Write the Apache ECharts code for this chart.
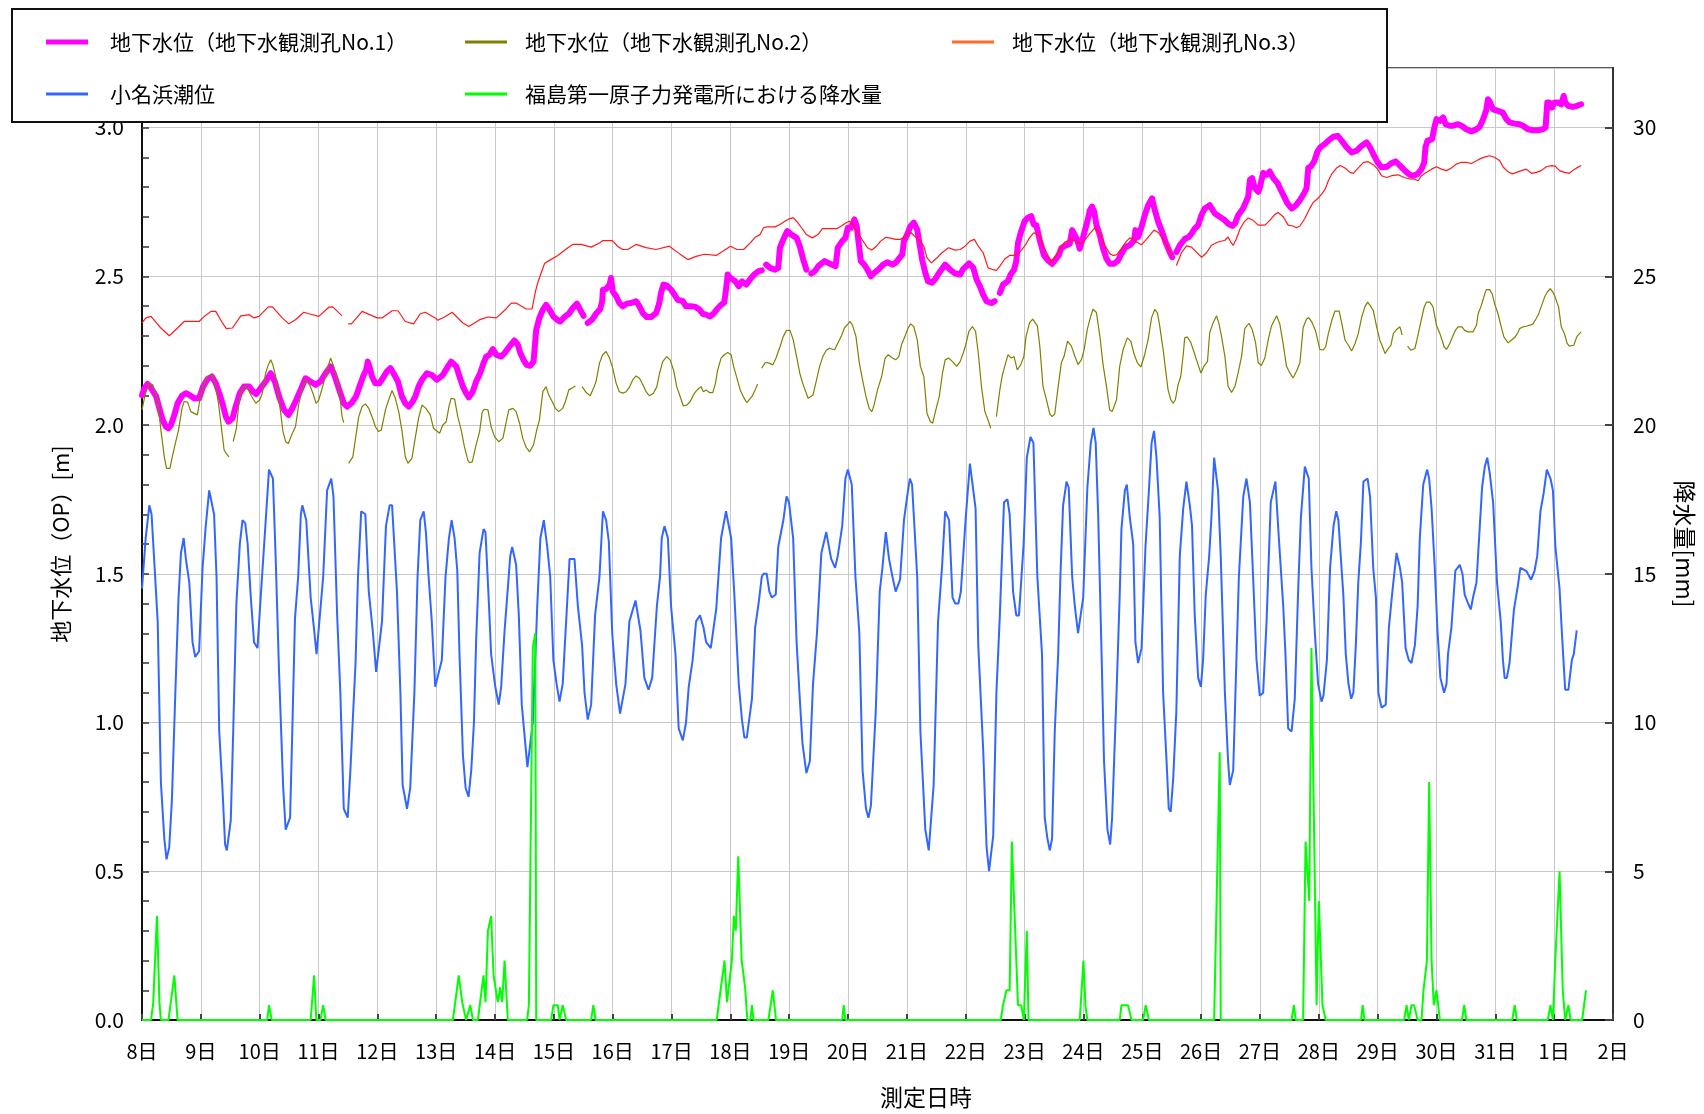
<!DOCTYPE html>
<html>
<head>
<meta charset="utf-8">
<script src="https://cdn.jsdelivr.net/npm/echarts@6/dist/echarts.min.js"></script>
<style>
html,body{margin:0;padding:0;background:#fff;}
#chart{width:1704px;height:1114px;}
</style>
</head>
<body>
<div id="chart"></div>
<script>
// x values are hours elapsed since 8日 0:00
const dayLabels = ['8日','9日','10日','11日','12日','13日','14日','15日','16日','17日','18日','19日','20日','21日','22日','23日','24日','25日','26日','27日','28日','29日','30日','31日','1日','2日'];

const seriesNames = [
  '地下水位（地下水観測孔No.1）',
  '地下水位（地下水観測孔No.2）',
  '地下水位（地下水観測孔No.3）',
  '小名浜潮位',
  '福島第一原子力発電所における降水量'
];

// 地下水位 No.1 [m]
const gw1 = [
[0,2.10],[1.0,2.124],[2.3,2.138],[3.7,2.124],[5.8,2.096],[7.3,2.05],[8.4,2.017],[9.8,1.994],[10.8,1.989],[11.8,2.0],[13.2,2.034],[14.5,2.073],[16.3,2.098],[17.9,2.107],[19.3,2.101],[21.3,2.09],[23.3,2.09],[24.9,2.129],[26.7,2.154],[28.5,2.163],[30.1,2.14],[31.5,2.107],[32.8,2.073],[34.2,2.028],[35.3,2.011],[36.9,2.022],[38.2,2.062],[39.9,2.107],[41.6,2.129],[43.7,2.129],[45.3,2.112],[46.6,2.104],[48.4,2.124],[50.4,2.146],[52.5,2.174],[54.2,2.146],[55.9,2.096],[57.9,2.051],[59.7,2.034],[61.3,2.056],[62.9,2.084],[64.7,2.118],[66.7,2.157],[68.7,2.146],[70.8,2.135],[72.8,2.146],[74.9,2.174],[76.9,2.197],[78.2,2.174],[79.6,2.14],[80.9,2.107],[82.3,2.073],[83.7,2.062],[85.7,2.076],[87.3,2.096],[88.7,2.129],[90.4,2.168],[91.4,2.185],[92.1,2.213],[92.8,2.196],[93.8,2.163],[95.2,2.14],[96.8,2.14],[98.6,2.163],[99.9,2.18],[101.3,2.191],[102.6,2.174],[104.4,2.146],[106.0,2.096],[107.4,2.073],[108.8,2.062],[110.4,2.079],[111.5,2.096],[112.8,2.129],[114.2,2.152],[116.2,2.174],[118.2,2.168],[120.3,2.152],
[122.7,2.168],[124.8,2.197],[126.1,2.213],[128.2,2.197],[129.5,2.163],[130.9,2.129],[132.2,2.107],[133.3,2.093],[134.9,2.112],[136.3,2.146],[137.9,2.174],[139.3,2.208],[140.4,2.23],[141.7,2.236],[143.1,2.255],[144.5,2.236],[146.5,2.23],[147.9,2.242],[149.9,2.264],[151.9,2.284],[153.3,2.27],[154.3,2.242],[155.6,2.219],[156.9,2.202],[158.3,2.199],[159.7,2.213],[160.8,2.32],[162.1,2.36],[163.5,2.388],[164.8,2.404],[166.2,2.388],[167.8,2.365],[169.6,2.352],[170.6,2.348],[172.3,2.363],[174.1,2.374],[175.7,2.393],[177.4,2.408],[178.7,2.388],[180.1,2.367],[180.9,null],
[181.8,2.343],[183.6,2.354],[185.2,2.374],[186.9,2.39],[187.7,2.416],[188.0,2.455],[189.3,2.457],[190.7,2.472],[191.3,2.494],[192.0,2.449],[193.4,2.433],[194.7,2.41],[196.1,2.399],[197.7,2.408],[199.5,2.41],[201.5,2.416],[202.9,2.399],[204.3,2.376],[205.9,2.363],[207.6,2.363],[209.7,2.376],[211.0,2.41],[211.7,2.444],[212.7,2.472],[214.0,2.469],[215.8,2.455],[217.2,2.438],[218.5,2.421],[220.6,2.416],[221.9,2.399],[224.0,2.399],[225.7,2.397],[227.4,2.388],[228.7,2.374],[230.1,2.371],[231.7,2.365],[233.1,2.374],[234.4,2.388],[236.2,2.404],[237.5,2.412],[238.2,2.455],[238.9,2.506],[240.0,2.494],[242.0,2.483],[243.4,2.466],[244.7,2.483],[246.5,2.472],[248.1,2.491],[249.7,2.506],[251.5,2.517],[252.8,2.52],[253.7,null],
[254.6,2.539],[256.2,2.528],[258.2,2.522],[259.5,2.528],[260.2,2.596],[261.6,2.624],[263.2,2.652],[264.9,2.64],[267.0,2.629],[268.3,2.601],[269.7,2.556],[271.0,2.522],[272.0,null],
[273.0,2.509],[274.4,2.517],[276.1,2.536],[278.4,2.551],[280.4,2.543],[282.9,2.534],[283.8,2.596],[285.6,2.618],[286.9,2.629],[287.9,2.663],[289.2,2.663],[290.6,2.691],[291.5,2.669],[293.2,2.551],[294.6,2.539],[295.9,2.522],[297.3,2.5],[298.6,2.511],[300.7,2.525],[302.3,2.539],[304.0,2.547],[306.1,2.539],[307.4,2.545],[309.0,2.562],[310.1,2.573],[310.8,2.618],[312.1,2.64],[313.5,2.669],[314.8,2.68],[316.2,2.657],[317.1,2.612],[318.2,2.556],[319.5,2.511],[320.6,2.483],[322.2,2.478],[323.6,2.491],[325.6,2.517],[327.6,2.539],[329.6,2.522],[331.7,2.509],[333.7,2.506],[335.0,2.525],[337.3,2.543],[339.1,2.528],[340.4,2.489],[341.8,2.466],[343.1,2.438],[344.5,2.416],[346.5,2.41],[347.8,2.416],[348.8,null],
[349.9,2.444],[351.2,2.472],[353.2,2.483],[354.3,2.506],[355.7,2.522],[356.6,2.551],[357.3,2.612],[358.4,2.646],[360.0,2.685],[361.3,2.697],[362.7,2.702],[363.7,2.674],[364.8,2.672],[366.2,2.621],[367.9,2.57],[369.6,2.553],[371.2,2.542],[372.3,2.553],[373.9,2.57],[375.0,2.595],[376.4,2.602],[378.4,2.609],[379.4,2.655],[380.5,2.638],[381.5,2.621],[382.5,2.593],[383.5,2.621],[384.8,2.66],[385.9,2.694],[386.6,2.722],[387.5,2.734],[388.4,2.717],[389.3,2.672],[390.7,2.638],[392.0,2.593],[393.4,2.559],[394.7,2.542],[396.5,2.542],[398.1,2.553],[399.5,2.576],[401.1,2.598],[402.9,2.604],[404.7,2.621],[405.2,2.655],[406.3,2.632],[407.7,2.666],[409.0,2.705],[410.4,2.739],[412.0,2.762],[413.1,2.722],[414.5,2.683],[416.1,2.649],[417.5,2.615],[419.2,2.581],[420.2,2.564],[421.0,null],
[421.9,2.581],[423.3,2.604],[425.4,2.626],[427.0,2.632],[428.1,2.643],[429.4,2.66],[430.8,2.672],[432.1,2.705],[433.5,2.728],[435.5,2.739],[437.6,2.711],[439.6,2.70],[441.7,2.688],[443.0,2.677],[444.7,2.669],[445.8,2.677],[447.1,2.705],[449.1,2.728],[451.2,2.767],[451.9,2.824],[452.8,2.83],[453.9,2.796],[455.3,2.784],[455.9,2.796],[457.3,2.847],[458.7,2.841],[460.0,2.852],[461.4,2.83],[463.2,2.813],[464.5,2.79],[465.9,2.767],[467.2,2.745],[468.9,2.728],[470.5,2.737],[472.3,2.756],[474.0,2.779],[475.0,2.796],[475.7,2.864],[476.8,2.869],[478.1,2.886],[479.5,2.92],[480.8,2.935],[482.5,2.945],[484.6,2.961],[486.0,2.969],[487.7,2.972],[489.4,2.955],[491.4,2.933],[493.4,2.916],[495.5,2.922],[497.5,2.939],[499.5,2.95],[500.9,2.933],[502.2,2.911],[504.0,2.883],[505.6,2.866],[507.7,2.868],[509.4,2.879],[511.3,2.886],[513.1,2.872],[515.1,2.855],[517.2,2.841],[518.5,2.838],[520.3,2.844],[521.9,2.86],[523.0,2.883],[523.5,2.933],[524.3,2.955],[526.2,2.961],[527.3,3.006],[528.0,3.028],[529.4,3.022],[530.7,3.034],[531.7,3.011],[533.4,3.006],[534.8,3.006],[536.8,3.011],[538.2,3.006],[540.2,2.994],[542.2,2.987],[543.6,2.991],[545.6,3.002],[547.0,3.028],[548.3,3.058],[549.0,3.095],[549.7,3.087],[551.1,3.061],[553.1,3.056],[555.1,3.05],[556.5,3.028],[557.8,3.017],[559.9,3.013],[561.9,3.011],[563.3,3.006],[565.3,2.994],[567.3,2.991],[569.4,2.991],[571.4,2.994],[572.5,3.0],[573.2,3.084],[574.1,3.084],[575.1,3.067],[576.1,3.084],[577.5,3.084],[578.9,3.078],[579.9,3.106],[580.5,3.084],[581.8,3.073],[583.6,3.069],[585.3,3.073],[587.0,3.078]
];

// 地下水位 No.2 [m]
const gw2 = [
[0,2.051],[1.4,2.107],[3.0,2.14],[4.4,2.135],[6.4,2.084],[7.7,1.983],[9.1,1.893],[10.0,1.854],[11.4,1.854],[12.5,1.899],[13.6,1.938],[14.9,1.983],[16.3,2.056],[17.2,2.079],[18.6,2.077],[19.9,2.045],[21.3,2.039],[22.6,2.034],[23.6,2.084],[24.9,2.129],[26.7,2.163],[28.5,2.169],[29.8,2.14],[31.2,2.073],[32.5,1.983],[33.5,1.916],[34.4,1.904],[35.5,1.893],[36.3,null],
[37.2,1.944],[38.5,1.989],[39.6,2.079],[40.7,2.118],[42.0,2.131],[43.4,2.118],[44.7,2.096],[46.4,2.073],[48.0,2.084],[49.1,2.107],[50.4,2.174],[51.5,2.202],[52.5,2.219],[53.4,2.202],[54.5,2.163],[55.9,2.084],[57.5,1.978],[58.6,1.944],[59.7,1.938],[61.0,1.966],[62.6,1.994],[64.0,2.073],[65.6,2.129],[67.0,2.152],[68.7,2.129],[69.7,2.107],[71.0,2.073],[72.1,2.084],[73.5,2.124],[75.5,2.185],[76.9,2.225],[78.2,2.197],[79.6,2.152],[80.9,2.084],[81.6,2.028],[82.3,2.008],[83.3,null],
[84.3,1.871],[86.0,1.893],[87.1,1.955],[88.4,2.028],[89.8,2.062],[91.1,2.071],[92.5,2.056],[94.1,2.022],[95.2,1.994],[96.5,1.978],[97.6,1.983],[99.3,2.051],[100.6,2.084],[102.0,2.116],[103.3,2.09],[104.7,2.045],[106.0,1.983],[107.4,1.893],[108.5,1.871],[110.1,1.888],[111.2,1.944],[112.8,2.022],[114.2,2.067],[115.8,2.056],[117.6,2.034],[118.9,1.989],[121.4,1.972],[122.7,2.0],[124.1,2.011],[125.2,2.062],[126.1,2.09],[127.5,2.087],[128.8,2.028],[130.2,1.983],[131.5,1.927],[132.9,1.882],[133.6,1.873],[134.7,1.876],[136.1,1.927],[137.7,1.978],[138.8,2.045],[139.7,2.053],[141.1,2.051],[142.4,1.994],[143.8,1.961],[145.5,1.944],[147.2,1.955],[148.3,2.0],[149.6,2.051],[151.3,2.056],[152.6,2.045],[154.0,2.006],[155.3,1.955],[156.7,1.925],[158.1,1.91],[158.7,1.904],[159.7,1.933],[161.0,1.983],[162.1,2.017],[163.5,2.112],[164.8,2.129],[165.9,2.101],[167.3,2.079],[168.6,2.056],[170.0,2.045],[171.6,2.056],[172.7,2.079],[174.1,2.118],[175.4,2.124],[176.8,2.131],[178.0,null],
[179.5,2.129],[181.2,2.109],[182.8,2.098],[184.2,2.124],[185.2,2.146],[186.6,2.208],[187.9,2.236],[189.3,2.247],[190.7,2.225],[192.0,2.191],[193.4,2.14],[194.7,2.112],[196.1,2.107],[197.5,2.112],[198.8,2.127],[200.2,2.152],[201.5,2.165],[202.9,2.157],[204.3,2.135],[205.6,2.112],[207.0,2.098],[208.6,2.107],[210.0,2.129],[211.1,2.174],[212.4,2.213],[214.0,2.23],[215.4,2.219],[216.8,2.185],[218.1,2.129],[219.5,2.096],[220.8,2.064],[222.2,2.067],[223.6,2.079],[225.3,2.107],[226.7,2.12],[228.0,2.129],[229.0,2.112],[230.1,2.118],[231.4,2.109],[232.8,2.109],[233.9,2.14],[234.8,2.185],[236.2,2.225],[237.5,2.236],[238.9,2.244],[240.3,2.236],[241.3,2.197],[242.7,2.157],[244.0,2.118],[245.4,2.093],[246.7,2.075],[247.4,2.071],[248.8,2.096],[250.1,2.118],[251.1,2.138],[252.0,null],
[252.8,2.191],[254.2,2.21],[255.9,2.208],[257.3,2.202],[258.6,2.225],[260.2,2.262],[261.6,2.298],[262.9,2.318],[264.3,2.318],[265.6,2.287],[267.0,2.23],[268.3,2.174],[269.7,2.135],[271.7,2.09],[273.7,2.101],[274.8,2.14],[276.4,2.197],[277.7,2.23],[279.1,2.251],[280.4,2.258],[282.5,2.253],[283.8,2.275],[285.2,2.298],[286.5,2.326],[287.9,2.339],[288.8,2.348],[289.9,2.333],[291.2,2.298],[292.6,2.208],[293.9,2.152],[295.3,2.096],[296.6,2.056],[297.7,2.045],[298.6,2.067],[300.0,2.118],[301.7,2.163],[303.1,2.225],[304.4,2.236],[306.1,2.225],[307.4,2.219],[308.7,2.23],[309.8,2.27],[311.2,2.298],[312.5,2.326],[313.5,2.34],[314.8,2.331],[316.2,2.287],[317.5,2.197],[318.9,2.163],[320.2,2.039],[321.6,2.011],[322.5,2.006],[323.8,2.051],[325.2,2.096],[326.5,2.174],[327.6,2.219],[329.0,2.225],[330.6,2.213],[332.3,2.197],[333.7,2.213],[335.0,2.242],[336.0,2.27],[337.3,2.315],[338.7,2.331],[340.0,2.315],[341.1,2.242],[342.4,2.129],[343.8,2.045],[345.1,2.017],[346.2,1.989],[347.3,null],
[348.5,2.028],[349.9,2.118],[350.8,2.163],[351.9,2.197],[353.2,2.236],[354.6,2.225],[355.7,2.23],[357.0,2.185],[358.4,2.202],[359.7,2.23],[360.6,2.298],[362.0,2.343],[363.3,2.356],[365.2,2.333],[366.2,2.265],[367.5,2.13],[368.9,2.085],[370.3,2.037],[371.2,2.028],[372.3,2.037],[373.7,2.13],[375.0,2.209],[376.1,2.231],[377.5,2.282],[379.1,2.265],[380.5,2.231],[381.8,2.203],[383.2,2.22],[384.3,2.254],[385.6,2.322],[387.0,2.367],[387.9,2.389],[389.3,2.378],[390.7,2.299],[392.0,2.203],[393.4,2.13],[394.7,2.051],[395.7,2.045],[396.5,2.045],[397.5,2.085],[398.8,2.198],[400.2,2.254],[401.9,2.293],[403.3,2.282],[404.7,2.237],[406.0,2.209],[407.4,2.195],[408.8,2.231],[410.4,2.288],[411.8,2.361],[413.1,2.389],[414.2,2.376],[415.1,2.333],[416.5,2.254],[417.5,2.186],[418.5,2.119],[419.6,2.085],[420.6,2.073],[421.5,2.085],[422.6,2.135],[423.7,2.164],[424.7,2.237],[425.3,2.293],[426.4,2.296],[427.8,2.277],[429.2,2.243],[430.5,2.209],[431.9,2.175],[433.2,2.198],[434.6,2.214],[435.5,2.31],[436.9,2.344],[438.3,2.367],[439.2,2.344],[440.3,2.299],[441.7,2.231],[443.0,2.13],[444.4,2.109],[445.8,2.13],[447.1,2.175],[448.5,2.231],[449.8,2.324],[451.5,2.342],[452.8,2.322],[454.2,2.277],[455.3,2.209],[456.6,2.2],[458.0,2.226],[459.4,2.288],[460.7,2.333],[462.8,2.367],[464.1,2.339],[465.5,2.271],[466.8,2.198],[468.2,2.175],[469.5,2.158],[470.9,2.181],[472.3,2.209],[473.6,2.327],[475.0,2.356],[475.9,2.361],[477.3,2.344],[478.7,2.316],[480.4,2.254],[481.8,2.252],[482.8,2.263],[483.9,2.307],[485.3,2.352],[486.6,2.383],[488.3,2.383],[489.4,2.341],[490.7,2.285],[492.1,2.268],[493.4,2.249],[494.8,2.274],[496.1,2.307],[497.5,2.363],[498.8,2.397],[499.9,2.413],[500.9,2.402],[502.2,2.385],[503.6,2.33],[504.9,2.285],[506.3,2.257],[507.0,2.24],[508.3,2.257],[509.4,2.268],[510.4,2.307],[511.7,2.321],[513.1,2.33],[514.0,2.302],[515.1,null],
[516.2,2.265],[517.6,2.251],[519.2,2.257],[520.3,2.296],[521.6,2.346],[523.0,2.397],[523.9,2.413],[525.3,2.413],[526.6,2.397],[528.0,2.335],[529.4,2.307],[530.3,2.285],[531.1,2.263],[532.1,2.254],[533.4,2.274],[534.8,2.302],[535.7,2.318],[536.8,2.33],[538.4,2.33],[539.5,2.318],[540.9,2.313],[542.9,2.313],[544.3,2.335],[545.0,2.374],[546.3,2.402],[547.7,2.441],[548.3,2.455],[549.7,2.455],[550.7,2.441],[551.7,2.408],[553.1,2.374],[554.4,2.33],[555.5,2.296],[557.2,2.276],[558.5,2.285],[560.1,2.296],[561.2,2.31],[561.9,2.324],[563.3,2.33],[564.6,2.332],[567.3,2.339],[568.7,2.358],[569.6,2.372],[570.7,2.397],[572.1,2.43],[573.2,2.447],[574.4,2.458],[575.5,2.447],[576.4,2.43],[577.8,2.397],[578.9,2.33],[580.2,2.307],[581.3,2.274],[582.2,2.265],[584.0,2.268],[585.3,2.298],[587.0,2.313]
];

// 地下水位 No.3 [m]
const gw3 = [
[0,2.343],[1.6,2.36],[3.7,2.365],[7.7,2.326],[11.1,2.30],[14.5,2.326],[17.2,2.348],[23.3,2.348],[25.4,2.365],[28.1,2.382],[30.1,2.382],[32.8,2.343],[34.4,2.324],[36.9,2.326],[40.3,2.367],[43.7,2.371],[45.7,2.36],[47.7,2.365],[51.5,2.397],[53.2,2.397],[57.2,2.36],[59.9,2.34],[62.6,2.354],[66.0,2.379],[68.1,2.374],[72.1,2.365],[76.2,2.396],[77.8,2.397],[81.6,2.367],[82.8,null],
[84.1,2.34],[85.4,2.34],[89.8,2.382],[95.9,2.36],[97.9,2.36],[102.0,2.384],[104.4,2.384],[107.4,2.348],[110.8,2.34],[113.5,2.374],[115.5,2.379],[119.6,2.36],[120.7,2.352],[123.4,2.363],[126.5,2.379],[130.9,2.343],[133.3,2.331],[137.7,2.354],[141.1,2.363],[144.5,2.36],[148.5,2.39],[150.6,2.41],[152.6,2.41],[156.7,2.39],[159.1,2.39],[160.5,2.449],[161.4,2.478],[162.8,2.511],[164.2,2.543],[165.5,2.55],[169.6,2.57],[173.7,2.596],[175.7,2.607],[179.1,2.607],[183.2,2.598],[186.6,2.612],[188.0,2.62],[191.8,2.62],[194.1,2.60],[196.1,2.59],[198.1,2.59],[201.5,2.607],[205.6,2.596],[209.7,2.59],[215.1,2.601],[219.2,2.576],[222.6,2.556],[226.0,2.567],[229.4,2.574],[234.2,2.57],[236.9,2.584],[240.0,2.601],[242.7,2.59],[245.4,2.59],[248.1,2.612],[250.1,2.631],[252.1,2.64],[253.5,2.663],[254.8,2.666],[258.2,2.666],[260.2,2.674],[262.2,2.685],[264.0,2.693],[265.6,2.697],[267.0,2.685],[269.0,2.663],[271.0,2.64],[273.4,2.629],[275.7,2.64],[277.5,2.66],[280.4,2.66],[283.4,2.66],[285.2,2.669],[287.2,2.68],[288.5,2.685],[289.9,2.674],[291.9,2.646],[293.9,2.621],[295.9,2.596],[297.7,2.588],[299.3,2.599],[301.3,2.618],[303.4,2.631],[304.7,2.629],[307.4,2.624],[309.4,2.624],[311.4,2.635],[313.5,2.648],[314.8,2.637],[316.8,2.624],[318.9,2.601],[320.2,2.562],[322.0,2.545],[324.3,2.562],[326.3,2.579],[329.0,2.596],[331.7,2.588],[333.7,2.59],[335.7,2.601],[337.7,2.618],[339.5,2.624],[341.1,2.601],[343.1,2.579],[345.1,2.528],[347.2,2.522],[348.5,2.52],[349.9,2.534],[351.9,2.558],[353.9,2.57],[355.9,2.57],[357.9,2.579],[360.0,2.601],[362.0,2.629],[363.7,2.646],[364.8,2.643],[366.2,2.632],[367.5,2.604],[368.9,2.581],[370.9,2.547],[372.3,2.564],[374.4,2.593],[376.4,2.615],[379.1,2.624],[381.2,2.615],[382.9,2.609],[384.5,2.621],[386.6,2.643],[388.6,2.663],[390.7,2.643],[392.7,2.604],[394.7,2.576],[396.1,2.57],[397.5,2.572],[399.5,2.593],[401.5,2.617],[402.9,2.629],[404.3,2.624],[405.6,2.615],[407.7,2.606],[409.7,2.624],[411.1,2.638],[412.8,2.655],[414.5,2.647],[415.8,2.632],[417.9,2.606],[419.9,2.57],[420.9,null],
[421.9,2.536],[424.0,2.579],[426.0,2.602],[428.1,2.598],[430.1,2.581],[432.2,2.564],[434.2,2.579],[436.2,2.604],[438.9,2.615],[441.7,2.621],[443.0,2.632],[444.1,2.615],[445.1,2.604],[446.4,2.626],[447.8,2.658],[449.6,2.683],[451.2,2.696],[453.2,2.688],[455.3,2.672],[458.0,2.672],[460.0,2.688],[462.1,2.708],[463.4,2.714],[465.5,2.70],[467.5,2.672],[469.5,2.669],[470.9,2.663],[472.3,2.669],[474.3,2.694],[476.3,2.728],[477.7,2.748],[479.7,2.762],[481.2,2.777],[482.6,2.793],[483.9,2.821],[485.3,2.844],[487.3,2.864],[488.7,2.872],[490.7,2.864],[492.7,2.849],[494.1,2.846],[496.1,2.864],[498.2,2.883],[500.2,2.885],[502.2,2.875],[504.0,2.86],[505.6,2.838],[507.7,2.832],[509.7,2.838],[512.4,2.841],[514.8,2.832],[517.2,2.827],[519.2,2.826],[520.5,2.821],[521.9,2.838],[523.3,2.846],[526.0,2.86],[528.0,2.868],[530.0,2.86],[532.1,2.855],[534.1,2.864],[536.1,2.877],[538.2,2.883],[540.2,2.883],[542.2,2.879],[544.3,2.888],[546.3,2.897],[548.3,2.902],[549.7,2.905],[551.7,2.9],[553.8,2.888],[555.1,2.868],[557.2,2.851],[558.9,2.844],[560.6,2.849],[562.6,2.855],[564.6,2.86],[566.7,2.846],[568.7,2.849],[570.7,2.855],[572.8,2.868],[574.8,2.872],[576.4,2.87],[578.2,2.855],[580.2,2.849],[582.2,2.846],[584.3,2.86],[585.6,2.866],[587.0,2.872]
];

// 小名浜潮位 [m]
const tide = [
[0,1.45],[1.5,1.62],[3.0,1.73],[3.9,1.70],[6.4,1.34],[7.7,0.80],[9.1,0.61],[10.0,0.54],[11.1,0.58],[12.2,0.74],[13.6,1.10],[14.9,1.42],[15.9,1.57],[17.0,1.62],[17.9,1.55],[19.3,1.47],[20.6,1.27],[21.7,1.22],[23.3,1.24],[24.7,1.52],[26.0,1.66],[27.4,1.78],[29.4,1.70],[30.4,1.49],[31.5,0.97],[32.8,0.78],[33.9,0.59],[34.6,0.57],[36.2,0.67],[37.2,0.97],[38.5,1.40],[39.9,1.60],[41.0,1.68],[42.1,1.67],[43.1,1.60],[44.3,1.43],[45.7,1.27],[47.1,1.25],[48.4,1.42],[50.0,1.62],[51.8,1.85],[53.4,1.82],[54.5,1.56],[55.9,1.17],[57.6,0.78],[58.6,0.64],[60.4,0.68],[61.3,0.97],[62.4,1.35],[63.7,1.49],[64.8,1.70],[65.4,1.73],[67.0,1.68],[68.8,1.42],[70.1,1.32],[71.2,1.23],[73.9,1.49],[75.5,1.78],[77.2,1.82],[78.1,1.76],[79.6,1.36],[80.9,1.10],[82.3,0.71],[83.9,0.68],[85.0,0.84],[87.1,1.20],[88.1,1.49],[89.4,1.71],[91.1,1.70],[92.5,1.44],[94.1,1.31],[95.5,1.17],[97.9,1.34],[99.5,1.66],[101.0,1.73],[102.0,1.73],[104.0,1.44],[105.4,1.10],[106.3,0.79],[108.1,0.71],[109.4,0.78],[111.1,1.10],[112.4,1.49],[113.5,1.68],[114.9,1.71],[115.8,1.64],[116.9,1.49],[118.2,1.34],[119.6,1.12],
[120.3,1.115],[122.3,1.21],[123.8,1.49],[125.2,1.62],[126.3,1.68],[127.5,1.62],[128.6,1.51],[129.5,1.23],[130.9,0.89],[132.0,0.78],[133.2,0.75],[134.3,0.84],[135.4,1.0],[136.3,1.28],[137.7,1.57],[139.3,1.65],[140.1,1.64],[141.5,1.40],[142.4,1.23],[144.1,1.12],[145.5,1.06],[146.5,1.12],[147.9,1.31],[149.2,1.45],[150.2,1.56],[151.0,1.59],[152.6,1.53],[153.7,1.36],[154.9,1.06],[156.0,0.96],[157.2,0.85],[158.1,0.91],[159.4,1.0],[160.5,1.23],[161.2,1.39],[162.5,1.62],[163.9,1.68],[165.3,1.59],[166.5,1.49],[167.8,1.21],[169.1,1.13],[170.3,1.07],[171.6,1.13],[173.0,1.34],[174.4,1.55],[176.4,1.55],[177.8,1.39],[179.5,1.26],[180.5,1.10],[181.8,1.01],[183.2,1.06],[184.8,1.36],[186.6,1.49],[188.0,1.71],[189.3,1.68],[190.4,1.61],[191.8,1.30],[193.4,1.13],[195.0,1.03],[197.2,1.13],[198.8,1.34],[201.3,1.41],[203.3,1.31],[204.9,1.15],[206.6,1.11],[208.1,1.15],[210.0,1.39],[211.3,1.49],[212.0,1.62],[213.1,1.66],[214.5,1.62],[215.8,1.39],[217.6,1.23],[218.9,0.98],[220.6,0.94],[221.9,1.0],[223.0,1.12],[224.6,1.21],[226.0,1.34],[227.6,1.36],[229.0,1.32],[230.1,1.27],[232.0,1.25],[234.2,1.38],[236.2,1.62],[238.2,1.71],[240.3,1.62],
[241.6,1.43],[243.4,1.13],[244.7,1.01],[245.7,0.95],[246.7,0.95],[248.8,1.08],[250.1,1.32],[251.5,1.40],[252.8,1.49],[253.5,1.50],[254.8,1.50],[255.9,1.44],[256.9,1.42],[258.5,1.43],[259.5,1.59],[261.6,1.68],[262.9,1.76],[263.9,1.74],[265.6,1.62],[267.0,1.27],[268.3,1.08],[269.4,0.93],[271.0,0.83],[272.4,0.87],[273.7,1.13],[275.3,1.30],[277.1,1.57],[279.1,1.64],[281.1,1.55],[282.7,1.52],[283.8,1.56],[285.6,1.66],[286.9,1.82],[287.9,1.85],[289.5,1.80],[291.0,1.49],[292.6,1.30],[293.9,0.84],[295.3,0.71],[296.3,0.68],[297.3,0.72],[299.3,1.04],[300.9,1.44],[302.0,1.52],[303.4,1.64],[304.7,1.55],[306.1,1.49],[307.4,1.44],[309.2,1.48],[310.8,1.68],[312.1,1.76],[313.2,1.82],[314.1,1.80],[316.2,1.49],[317.5,0.97],[319.5,0.64],[320.9,0.57],[322.9,0.79],[324.7,1.34],[326.3,1.52],[327.6,1.71],[329.2,1.68],[330.6,1.42],[331.7,1.40],[333.0,1.40],[334.0,1.44],[336.0,1.69],[337.7,1.87],[340.0,1.72],[341.1,1.26],[343.1,0.91],[344.5,0.58],[345.5,0.50],[347.2,0.62],[348.5,1.10],[349.9,1.36],[351.6,1.74],[353.0,1.75],[353.9,1.70],[355.3,1.44],[356.6,1.36],[357.7,1.36],[359.6,1.60],[360.9,1.89],[362.4,1.96],[363.6,1.94],
[365.2,1.49],[367.1,1.23],[368.2,0.68],[369.3,0.61],[370.3,0.57],[371.2,0.61],[372.3,0.97],[373.7,1.23],[374.6,1.49],[375.7,1.73],[377.1,1.81],[378.0,1.79],[379.4,1.49],[380.5,1.39],[381.8,1.30],[382.5,1.30],[383.9,1.42],[385.6,1.79],[387.0,1.94],[388.1,1.99],[389.0,1.94],[390.0,1.70],[391.4,1.23],[392.4,0.87],[393.8,0.64],[394.9,0.59],[395.7,0.68],[397.5,1.10],[398.8,1.43],[399.5,1.65],[400.9,1.78],[401.7,1.80],[402.9,1.69],[404.3,1.60],[405.2,1.27],[406.3,1.20],[407.7,1.25],[409.3,1.59],[410.7,1.78],[411.8,1.94],[412.8,1.98],[413.8,1.89],[415.1,1.69],[416.5,1.10],[417.9,0.87],[418.8,0.71],[419.6,0.70],[420.6,0.81],[421.9,1.04],[423.3,1.56],[424.7,1.72],[426.0,1.81],[427.4,1.73],[428.3,1.66],[429.4,1.36],[430.8,1.15],[431.9,1.12],[432.8,1.21],[433.9,1.43],[435.3,1.56],[436.2,1.69],[437.3,1.89],[438.9,1.78],[440.0,1.56],[441.7,1.10],[443.0,0.87],[443.7,0.79],[445.1,0.84],[446.0,1.10],[447.4,1.49],[449.2,1.76],[450.5,1.82],[451.9,1.74],[453.2,1.49],[454.6,1.21],[455.9,1.09],[457.3,1.10],[458.7,1.34],[460.4,1.74],[462.3,1.81],[463.7,1.62],[465.5,1.39],[466.4,1.23],[467.5,0.98],[468.9,0.97],[470.2,1.08],[471.6,1.45],[472.7,1.69],[474.3,1.86],[475.9,1.82],[477.0,1.52],[478.4,1.30],[479.7,1.13],[481.1,1.07],
[481.9,1.09],[483.3,1.21],[484.6,1.52],[486.0,1.66],[487.1,1.71],[488.0,1.68],[488.7,1.59],[490.0,1.43],[491.0,1.23],[492.1,1.13],[493.2,1.08],[494.1,1.10],[495.1,1.26],[496.1,1.47],[497.2,1.61],[498.2,1.81],[499.9,1.82],[500.9,1.76],[502.2,1.52],[503.3,1.42],[504.3,1.10],[505.6,1.05],[507.3,1.06],[508.6,1.32],[510.0,1.44],[511.7,1.57],[513.1,1.52],[514.0,1.47],[515.4,1.25],[516.7,1.21],[517.8,1.20],[519.2,1.26],[520.3,1.39],[521.2,1.62],[522.6,1.80],[524.2,1.85],[525.0,1.82],[526.0,1.72],[527.3,1.52],[528.4,1.31],[529.6,1.15],[531.1,1.10],[532.1,1.13],[532.7,1.23],[534.1,1.32],[535.7,1.51],[537.5,1.53],[538.6,1.50],[539.5,1.43],[540.9,1.40],[542.0,1.38],[542.9,1.42],[544.3,1.47],[545.6,1.65],[546.6,1.79],[547.7,1.86],[548.7,1.89],[549.7,1.84],[551.1,1.74],[552.7,1.47],[554.2,1.34],[555.1,1.21],[555.8,1.15],[556.7,1.15],[557.8,1.20],[559.6,1.38],[561.2,1.46],[562.2,1.52],[563.0,1.52],[564.6,1.51],[566.6,1.48],[568.0,1.51],[569.1,1.56],[570.4,1.71],[571.7,1.77],[573.0,1.85],[574.5,1.82],[575.5,1.78],[576.5,1.59],[578.2,1.45],[579.3,1.28],[580.5,1.11],[581.8,1.11],[583.2,1.21],[584.0,1.23],[585.2,1.31]
];

// 福島第一原子力発電所における降水量 [mm]
const rain = [
[0,0],[3.7,0],[4.6,0.6],[6.1,3.5],[7.1,0.6],[7.7,0],
[10.8,0],[13.2,1.5],[14.5,0],
[51.1,0],[51.8,0.5],[52.9,0],
[68.8,0],[70.2,1.5],[71.1,0],[72.8,0],[73.9,0.5],[74.9,0],
[126.8,0],[129.2,1.5],[130.6,0.6],[132.2,0],[133.9,0.5],[135.0,0],
[137.0,0],[139.3,1.5],[140.1,0.6],[141.1,3.0],[142.4,3.5],[143.4,1.5],[144.2,1.5],[145.1,0.6],[146.1,1.1],[146.9,0.6],[147.9,2.0],[149.2,0],
[157.1,0],[157.8,0.5],[159.4,12.5],[160.4,13.0],[160.8,0],
[166.9,0],[167.8,0.5],[169.6,0.5],[170.3,0],[171.6,0.5],[173.0,0],
[183.2,0],[184.1,0.5],[185.0,0],
[234.4,0],[237.6,2.0],[238.6,0.6],[239.3,0.6],[240.6,2.0],[241.4,3.5],[242.2,3.0],[243.2,5.5],[244.6,2.0],[246.0,1.1],[246.9,0],[248.1,0],[248.8,0.5],[249.4,0],
[255.5,0],[257.3,1.0],[258.6,0],
[285.6,0],[286.2,0.5],[286.9,0],
[350.3,0],[351.2,0.5],[352.6,1.0],[353.9,1.0],[354.8,6.0],[357.3,0.5],[358.6,0.5],[359.7,0],[360.1,0],[360.9,3.0],[361.6,0],
[382.5,0],[384.0,2.0],[384.8,0.5],[385.6,0],
[398.8,0],[399.5,0.5],[402.2,0.5],[403.6,0],
[408.3,0],[409.4,0.5],[410.7,0],
[437.3,0],[439.6,9.0],[440.0,0],
[468.9,0],[469.8,0.5],[470.6,0],
[473.6,0],[474.6,6.0],[476.1,4.0],[477.0,12.5],[479.1,0.5],[480.0,4.0],[481.5,0.5],[482.8,0],
[497.2,0],[497.9,0.5],[498.6,0],
[514.8,0],[515.8,0.5],[516.7,0],[517.8,0.5],[518.9,0.5],[520.3,0],
[521.9,0],[522.7,1.0],[524.1,2.0],[525.0,8.0],[526.0,2.0],[526.9,0.5],[528.0,1.0],[529.4,0],
[538.4,0],[539.3,0.5],[540.2,0],
[558.9,0],[559.9,0.5],[560.8,0],
[573.4,0],[574.5,0.5],[575.5,0],[576.4,1.9],[578.2,5.0],[579.5,1.0],[580.5,0],[581.8,0.5],[582.7,0],
[587.4,0],[589.0,1.0]
];

const colors = {
  gw1: '#ff00ff',
  gw2: '#808000',
  gw3: '#ff1a1a',
  gw3Key: '#ff6a2a',
  tide: '#3366ff',
  rain: '#00ff00'
};

const FONT = '"Noto Sans CJK JP", "Noto Sans", sans-serif';

const chart = echarts.init(document.getElementById('chart'), null, { renderer: 'canvas' });

function legendBlock(name, color, left, top, iconH, gap) {
  return {
    show: true,
    selectedMode: false,
    orient: 'horizontal',
    left: left,
    top: top,
    padding: 0,
    itemWidth: 42,
    itemHeight: iconH,
    z: 200,
    textStyle: {
      fontFamily: FONT,
      fontSize: 21,
      color: '#000',
      lineHeight: 26,
      padding: [0, 0, 0, gap]
    },
    data: [{ name: name, icon: 'rect', itemStyle: { color: color, borderWidth: 0 } }]
  };
}

const option = {
  animation: false,
  backgroundColor: '#ffffff',
  grid: {
    left: 142, right: 89, top: 68, bottom: 92,
    show: true, borderColor: '#222', borderWidth: 1.5, backgroundColor: 'transparent'
  },
  legend: [
    legendBlock(seriesNames[0], colors.gw1, 46, 29, 5, 17),
    legendBlock(seriesNames[1], colors.gw2, 465, 29, 3, 13),
    legendBlock(seriesNames[2], colors.gw3Key, 952, 29, 3, 13),
    legendBlock(seriesNames[3], colors.tide, 46, 81, 3, 17),
    legendBlock(seriesNames[4], colors.rain, 465, 81, 3, 13)
  ],
  graphic: [{
    type: 'rect',
    z: 100,
    shape: { x: 12, y: 9, width: 1375, height: 113 },
    style: { fill: '#ffffff', stroke: '#111', lineWidth: 2 }
  }],
  xAxis: {
    type: 'value',
    min: 0, max: 600, interval: 24,
    name: '測定日時',
    nameLocation: 'middle',
    nameGap: 66,
    nameTextStyle: { fontFamily: FONT, fontSize: 23, color: '#000', padding: [0, 0, 0, 97] },
    axisLine: { show: true, lineStyle: { color: '#111', width: 2 } },
    axisTick: { show: true, inside: true, length: 6, lineStyle: { color: '#444', width: 2 } },
    axisLabel: {
      fontFamily: FONT, fontSize: 20, color: '#000', margin: 21,
      formatter: v => dayLabels[Math.round(v / 24)] || ''
    },
    splitLine: { show: true, lineStyle: { color: '#c8c8c8', width: 1 } }
  },
  yAxis: [{
    type: 'value',
    min: 0, max: 3.2, interval: 0.5,
    position: 'left',
    name: '地下水位（OP）[m]',
    nameLocation: 'middle',
    nameGap: 70,
    nameTextStyle: { fontFamily: FONT, fontSize: 22, color: '#000' },
    axisLine: { show: true, lineStyle: { color: '#111', width: 2 } },
    axisTick: { show: true, inside: true, length: 7, lineStyle: { color: '#333', width: 1.5 } },
    minorTick: { show: true, splitNumber: 5, length: 7, lineStyle: { color: '#333', width: 1.5 } },
    axisLabel: {
      fontFamily: FONT, fontSize: 21, color: '#000', margin: 18, showMaxLabel: false,
      formatter: v => v.toFixed(1)
    },
    splitLine: { show: true, lineStyle: { color: '#c8c8c8', width: 1 } }
  }, {
    type: 'value',
    min: 0, max: 32, interval: 5,
    position: 'right',
    name: '降水量[mm]',
    nameLocation: 'middle',
    nameRotate: -90,
    nameGap: 60,
    nameTextStyle: { fontFamily: FONT, fontSize: 23, color: '#000' },
    axisLine: { show: true, lineStyle: { color: '#333', width: 2 } },
    axisTick: { show: true, inside: true, length: 8, lineStyle: { color: '#444', width: 2 } },
    axisLabel: { fontFamily: FONT, fontSize: 21, color: '#000', margin: 20, showMaxLabel: false },
    splitLine: { show: false }
  }],
  series: [{
    name: seriesNames[0], type: 'line', yAxisIndex: 0, data: gw1,
    showSymbol: false, connectNulls: false,
    lineStyle: { color: colors.gw1, width: 6, cap: 'round', join: 'round' },
    itemStyle: { color: colors.gw1 }
  }, {
    name: seriesNames[1], type: 'line', yAxisIndex: 0, data: gw2,
    showSymbol: false, connectNulls: false,
    lineStyle: { color: colors.gw2, width: 1.2 },
    itemStyle: { color: colors.gw2 }
  }, {
    name: seriesNames[2], type: 'line', yAxisIndex: 0, data: gw3,
    showSymbol: false, connectNulls: false,
    lineStyle: { color: colors.gw3, width: 1.2 },
    itemStyle: { color: colors.gw3 }
  }, {
    name: seriesNames[3], type: 'line', yAxisIndex: 0, data: tide,
    showSymbol: false,
    lineStyle: { color: colors.tide, width: 2 },
    itemStyle: { color: colors.tide }
  }, {
    name: seriesNames[4], type: 'line', yAxisIndex: 1, data: rain,
    showSymbol: false,
    lineStyle: { color: colors.rain, width: 2 },
    itemStyle: { color: colors.rain }
  }]
};

chart.setOption(option);
</script>
</body>
</html>
